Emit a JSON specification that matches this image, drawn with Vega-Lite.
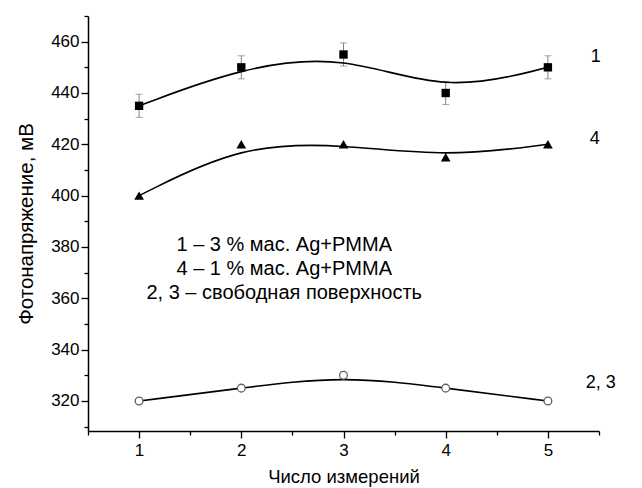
{
  "$schema": "https://vega.github.io/schema/vega-lite/v6.json",
  "width": 511,
  "height": 415,
  "autosize": "none",
  "padding": {"left": 88, "top": 16, "right": 43, "bottom": 57},
  "background": "white",
  "config": {
    "view": {"stroke": null},
    "font": "Liberation Sans",
    "axis": {
      "domainColor": "black",
      "domainWidth": 1.5,
      "tickColor": "black",
      "tickWidth": 1.3,
      "grid": false,
      "labelFont": "Liberation Sans",
      "titleFont": "Liberation Sans",
      "labelColor": "black",
      "titleColor": "black",
      "titleFontWeight": "normal"
    }
  },
  "datasets": {
    "pts": [
      {"x": 1, "y": 435, "s": "1", "err": 4.5},
      {"x": 2, "y": 450, "s": "1", "err": 4.5},
      {"x": 3, "y": 455, "s": "1", "err": 4.5},
      {"x": 4, "y": 440, "s": "1", "err": 4.5},
      {"x": 5, "y": 450, "s": "1", "err": 4.5},
      {"x": 1, "y": 400, "s": "4", "err": 0},
      {"x": 2, "y": 420, "s": "4", "err": 0},
      {"x": 3, "y": 420, "s": "4", "err": 0},
      {"x": 4, "y": 415, "s": "4", "err": 0},
      {"x": 5, "y": 420, "s": "4", "err": 0},
      {"x": 1, "y": 320, "s": "23", "err": 0},
      {"x": 2, "y": 325, "s": "23", "err": 0},
      {"x": 3, "y": 330, "s": "23", "err": 0},
      {"x": 4, "y": 325, "s": "23", "err": 0},
      {"x": 5, "y": 320, "s": "23", "err": 0}
    ],
    "labels": [
      {"x": 5.42, "y": 454.1, "t": "1"},
      {"x": 5.41, "y": 422.1, "t": "4"},
      {"x": 5.37, "y": 326.9, "t": "2, 3"}
    ],
    "legend": [
      {"x": 2.42, "y": 380.8, "t": "1 – 3 % мас. Ag+PMMA"},
      {"x": 2.42, "y": 371.5, "t": "4 – 1 % мас. Ag+PMMA"},
      {"x": 2.42, "y": 362.1, "t": "2, 3 – свободная поверхность"}
    ]
  },
  "encoding": {
    "x": {
      "field": "x",
      "type": "quantitative",
      "scale": {"domain": [0.5, 5.5], "nice": false, "zero": false},
      "axis": {
        "title": "Число измерений",
        "titleFontSize": 18.5,
        "titlePadding": 9,
        "values": [0.5, 1, 1.5, 2, 2.5, 3, 3.5, 4, 4.5, 5, 5.5],
        "labelExpr": "datum.value % 1 === 0 ? format(datum.value, 'd') : ''",
        "labelFontSize": 17,
        "labelPadding": 4,
        "tickSize": {"condition": {"test": "datum.value % 1 === 0", "value": 7}, "value": 4}
      }
    },
    "y": {
      "field": "y",
      "type": "quantitative",
      "scale": {"domain": [308.3, 470], "nice": false, "zero": false},
      "axis": {
        "title": "Фотонапряжение, мВ",
        "titleFontSize": 20.5,
        "titlePadding": 14,
        "values": [310, 320, 330, 340, 350, 360, 370, 380, 390, 400, 410, 420, 430, 440, 450, 460, 470],
        "labelExpr": "datum.value % 20 === 0 ? datum.label : ''",
        "labelFontSize": 17,
        "labelPadding": 2,
        "tickSize": {"condition": {"test": "datum.value % 20 === 0", "value": 7}, "value": 4}
      }
    }
  },
  "layer": [
    {
      "data": {"name": "pts"},
      "transform": [{"filter": "datum.s === '1'"}],
      "mark": {"type": "errorbar", "ticks": {"size": 7, "color": "#808080", "strokeWidth": 1}, "color": "#808080", "strokeWidth": 1},
      "encoding": {"yError": {"field": "err"}}
    },
    {
      "data": {"name": "pts"},
      "mark": {"type": "line", "interpolate": "basis", "color": "black", "strokeWidth": 1.6},
      "encoding": {"detail": {"field": "s"}}
    },
    {
      "data": {"name": "pts"},
      "transform": [{"filter": "datum.s === '1'"}],
      "mark": {"type": "point", "shape": "square", "filled": true, "color": "black", "size": 70, "opacity": 1}
    },
    {
      "data": {"name": "pts"},
      "transform": [{"filter": "datum.s === '4'"}],
      "mark": {"type": "point", "shape": "triangle-up", "filled": true, "color": "black", "size": 95, "opacity": 1}
    },
    {
      "data": {"name": "pts"},
      "transform": [{"filter": "datum.s === '23'"}],
      "mark": {"type": "point", "shape": "circle", "filled": false, "fill": "white", "stroke": "#606060", "strokeWidth": 1.3, "size": 60, "opacity": 1}
    },
    {
      "data": {"name": "labels"},
      "mark": {"type": "text", "align": "left", "baseline": "middle", "fontSize": 18, "color": "black"},
      "encoding": {"text": {"field": "t"}}
    },
    {
      "data": {"name": "legend"},
      "mark": {"type": "text", "align": "center", "baseline": "middle", "fontSize": 20, "color": "black"},
      "encoding": {"text": {"field": "t"}}
    }
  ]
}
